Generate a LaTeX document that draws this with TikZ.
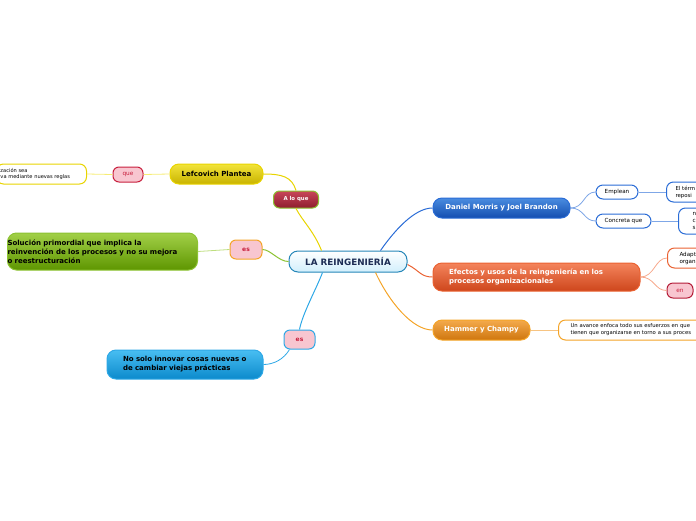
\documentclass[tikz,border=0pt]{standalone}
\usepackage{fontspec}
\setmainfont{DejaVu Sans}
\usetikzlibrary{positioning}

\definecolor{yelA}{HTML}{F2E43A}
\definecolor{yelB}{HTML}{C9B300}
\definecolor{yelL}{HTML}{E8D400}
\definecolor{grnA}{HTML}{A2D048}
\definecolor{grnB}{HTML}{5E9600}
\definecolor{grnL}{HTML}{8CC232}
\definecolor{cyaA}{HTML}{48BEF2}
\definecolor{cyaB}{HTML}{0C8ACC}
\definecolor{cyaL}{HTML}{2EA8E6}
\definecolor{bluA}{HTML}{4A8CE0}
\definecolor{bluB}{HTML}{134EB0}
\definecolor{bluL}{HTML}{2A6CD6}
\definecolor{redA}{HTML}{F4845C}
\definecolor{redB}{HTML}{CE461C}
\definecolor{redL}{HTML}{EA6232}
\definecolor{orgA}{HTML}{F4AA4C}
\definecolor{orgB}{HTML}{CF760E}
\definecolor{orgL}{HTML}{F4A428}
\definecolor{wneA}{HTML}{C8465A}
\definecolor{wneB}{HTML}{8E1E2E}
\definecolor{pinkF}{HTML}{F8C6D0}
\definecolor{pinkT}{HTML}{C8203E}
\definecolor{navy}{HTML}{1C2C54}

\begin{document}
\begin{tikzpicture}[x=1pt,y=-1pt,
    topic/.style={rounded corners=9pt, line width=1pt, inner sep=0pt,
        font=\bfseries\fontsize{7}{9}\selectfont},
    tag/.style={rounded corners=6pt, line width=1pt, inner sep=0pt,
        fill=pinkF, text=pinkT, font=\fontsize{5.8}{7}\selectfont},
    note/.style={rounded corners=7pt, line width=1pt, inner sep=0pt, fill=white,
        font=\fontsize{5.6}{7}\selectfont},
    link/.style={line width=1pt},
    twig/.style={line width=0.8pt}]

    \useasboundingbox (0,0) rectangle (696,520);

    % centre
    \node[topic, draw=cyaL!80!black, top color=white, bottom color=cyaA!25,
        text=navy, font=\bfseries\fontsize{8.8}{10}\selectfont,
        minimum width=118, minimum height=21] (core) at (348,261.5) {LA REINGENIERÍA};

    % left branches
    \node[tag, draw=grnL, top color=wneA, bottom color=wneB, text=white,
        font=\bfseries\fontsize{5.4}{6.6}\selectfont,
        minimum width=45, minimum height=17] (alo) at (296,199.5) {A lo que};
    \node[topic, draw=yelL, top color=yelA, bottom color=yelB,
        minimum width=93, minimum height=20] (lef) at (216.5,174) {Lefcovich Plantea};
    \node[tag, draw=pinkT, minimum width=30, minimum height=15] (que) at (128,174.5) {que};
    \node[note, draw=yelL, anchor=east, minimum height=20, inner xsep=4, text width=82,
        align=left, font=\fontsize{5.1}{6.6}\selectfont] (regla) at (87,174)
        {zación sea\\va mediante nuevas reglas};

    \node[tag, draw=orgL, font=\bfseries\fontsize{6}{7}\selectfont,
        minimum width=32, minimum height=19] (es1) at (246,249.5) {es};
    \node[topic, draw=grnL, top color=grnA, bottom color=grnB, anchor=east,
        minimum height=37, text width=190, align=left] (sol) at (198,251.5)
        {Solución primordial que implica la\\reinvención de los procesos y no su mejora\\o reestructuración};

    \node[tag, draw=cyaL, font=\bfseries\fontsize{6}{7}\selectfont,
        minimum width=31, minimum height=19] (es2) at (299.5,339.5) {es};
    \node[topic, draw=cyaL, top color=cyaA, bottom color=cyaB,
        minimum width=156, minimum height=29, text width=124, align=left] (inn) at (185,364.5)
        {No solo innovar cosas nuevas o\\de cambiar viejas prácticas};

    % right branches
    \node[topic, draw=bluL, top color=bluA, bottom color=bluB, text=white,
        minimum width=137, minimum height=20] (dan) at (501.5,208) {Daniel Morris y Joel Brandon};
    \node[note, draw=bluL, minimum width=42, minimum height=14] (emp) at (617,192) {Emplean};
    \node[note, draw=bluL, minimum width=55, minimum height=14] (con) at (623.5,221) {Concreta que};
    \node[note, draw=bluL, anchor=west, minimum height=20, inner xsep=9, text width=40,
        align=left, font=\fontsize{5.4}{7}\selectfont] (term) at (666,192) {El térm\\reposi};
    \node[note, draw=bluL, anchor=west, minimum height=26, inner xsep=14, text width=30,
        align=left] (cierto) at (678,221) {n\\c\\s};

    \node[topic, draw=redL, top color=redA, bottom color=redB, text=white,
        minimum width=207, minimum height=28, text width=175, align=left] (efe) at (536.5,277)
        {Efectos y usos de la reingeniería en los\\procesos organizacionales};
    \node[note, draw=redL, anchor=west, minimum height=20, inner xsep=12, text width=30,
        align=left] (adap) at (667,258) {Adapt\\organ};
    \node[tag, draw=pinkT!90!black, minimum width=26, minimum height=15] (en) at (680,290.5) {en};

    \node[topic, draw=orgL, top color=orgA, bottom color=orgB, text=white,
        minimum width=97, minimum height=20] (ham) at (481.5,330) {Hammer y Champy};
    \node[note, draw=orgL, anchor=west, minimum height=20, inner xsep=12, text width=170,
        align=left, font=\fontsize{5.3}{7}\selectfont] (avan) at (558,330)
        {Un avance enfoca todo sus esfuerzos en que\\tienen que organizarse en torno a sus proces};

    % connectors from the centre
    \draw[link, yelL] (core.north west) ++(33,0) .. controls +(-8,-20) and +(6,12) .. (alo.south);
    \draw[link, yelL] (alo.north) .. controls +(-4,-14) and +(18,0) .. (lef.east);
    \draw[twig, yelA!70] (lef.west) -- (que.east);
    \draw[twig, yelA!70] (que.west) -- (regla.east);
    \draw[link, grnL] (core.west) .. controls +(-10,0) and +(8,0) .. (es1.east);
    \draw[twig, grnA!70] (es1.west) -- (sol.east);
    \draw[link, cyaL] (core.south west) ++(34,0) .. controls +(-6,16) and +(3,-16) .. (es2.north);
    \draw[twig, cyaL] (es2.south west) ++(6,0) .. controls +(-6,10) and +(10,0) .. (inn.east);

    \draw[link, bluL] (core.north east) ++(-27,0) .. controls +(14,-20) and +(-18,0) .. (dan.west);
    \draw[twig, bluL!60] (dan.east) .. controls +(14,0) and +(-12,0) .. (emp.west);
    \draw[twig, bluL!60] (dan.east) .. controls +(14,0) and +(-12,0) .. (con.west);
    \draw[twig, bluL!60] (emp.east) -- (term.west);
    \draw[twig, bluL!60] (con.east) -- (cierto.west);
    \draw[link, redL] (core.east) ++(0,3) .. controls +(12,6) and +(-12,0) .. (efe.west);
    \draw[twig, redA!70] (efe.east) .. controls +(14,0) and +(-12,0) .. (adap.west);
    \draw[twig, redA!70] (efe.east) .. controls +(14,0) and +(-12,0) .. (en.west);
    \draw[link, orgL] (core.south east) ++(-32,0) .. controls +(14,30) and +(-20,0) .. (ham.west);
    \draw[twig, orgA!70] (ham.east) -- (avan.west);
\end{tikzpicture}
\end{document}
